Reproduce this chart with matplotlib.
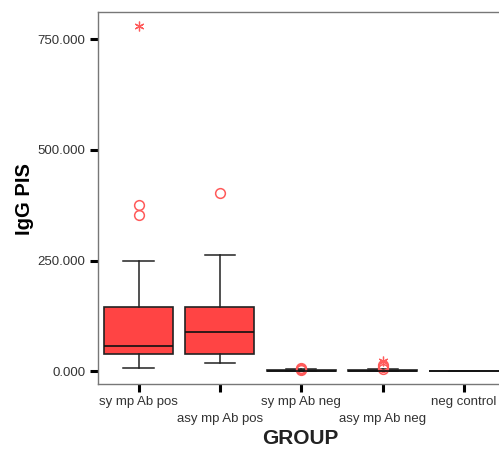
import numpy as np
import matplotlib.pyplot as plt

plt.rcParams['font.family'] = ['Liberation Sans', 'DejaVu Sans']

groups = ['sy mp Ab pos', 'asy mp Ab pos', 'sy mp Ab neg', 'asy mp Ab neg', 'neg control']
whislo = [7, 18, 0, 0, 0]
q1 = [38, 38, 0, 0, 0]
med = [58, 88, 1, 1, 0]
q3 = [145, 145, 3, 3, 0]
whishi = [250, 262, 5, 5, 0]

# outliers (circles) and extremes (stars)
out_circ = [[352, 375], [402], [3, 5, 8], [5, 9, 13], []]
out_star = [[780], [], [], [22], []]

yticks = [0, 250, 500, 750]
ytick_labels = ['0.000', '250.000', '500.000', '750.000']

fig = plt.figure(figsize=(4.99, 4.5), dpi=100)
ax = fig.add_axes([0.196, 0.1467, 0.8156, 0.8267])

stats = []
for i in range(len(groups)):
    stats.append(dict(whislo=whislo[i], q1=q1[i], med=med[i], q3=q3[i],
                      whishi=whishi[i], fliers=[]))

ax.bxp(stats, positions=np.arange(len(groups)), widths=0.85, patch_artist=True,
       showfliers=False,
       boxprops=dict(facecolor='#ff4444', edgecolor='#222222', linewidth=1.2),
       medianprops=dict(color='#111111', linewidth=1.2),
       whiskerprops=dict(color='#222222', linewidth=1.1),
       capprops=dict(color='#222222', linewidth=1.1),
       capwidths=0.37)

red = '#ff5a5a'
for i in range(len(groups)):
    if out_circ[i]:
        ax.plot([i] * len(out_circ[i]), out_circ[i], 'o', mfc='none', mec=red,
                ms=7, mew=1.1)
    if out_star[i]:
        ax.plot([i] * len(out_star[i]), out_star[i], marker=(6, 2, 0), ls='none',
                color=red, ms=7, mew=0.9)

ax.set_xlim(-0.5, 4.5)
ax.set_ylim(-29, 812)
ax.set_yticks(yticks)
ax.set_yticklabels(ytick_labels, fontsize=9.5, color='#333333')
ax.set_xticks(np.arange(len(groups)))
ax.set_xticklabels(groups, fontsize=9.5, color='#333333')
for i, lab in enumerate(ax.get_xticklabels()):
    if i % 2 == 1:
        lab.set_y(-0.045)

ax.tick_params(axis='both', direction='out', length=6, width=2.2, color='black')
ax.tick_params(axis='x', pad=3)
ax.tick_params(axis='y', pad=3)
for s in ax.spines.values():
    s.set_color('#777777')
    s.set_linewidth(1.0)

fig.text(25 / 499, 1 - 199 / 450, 'IgG PIS', fontsize=14.5, fontweight='bold',
         rotation=90, ha='center', va='center')
fig.text(300 / 499, 1 - 438 / 450, 'GROUP', fontsize=15, fontweight='bold',
         ha='center', va='center', color='#222222')

fig.savefig('out.png', dpi=100)
